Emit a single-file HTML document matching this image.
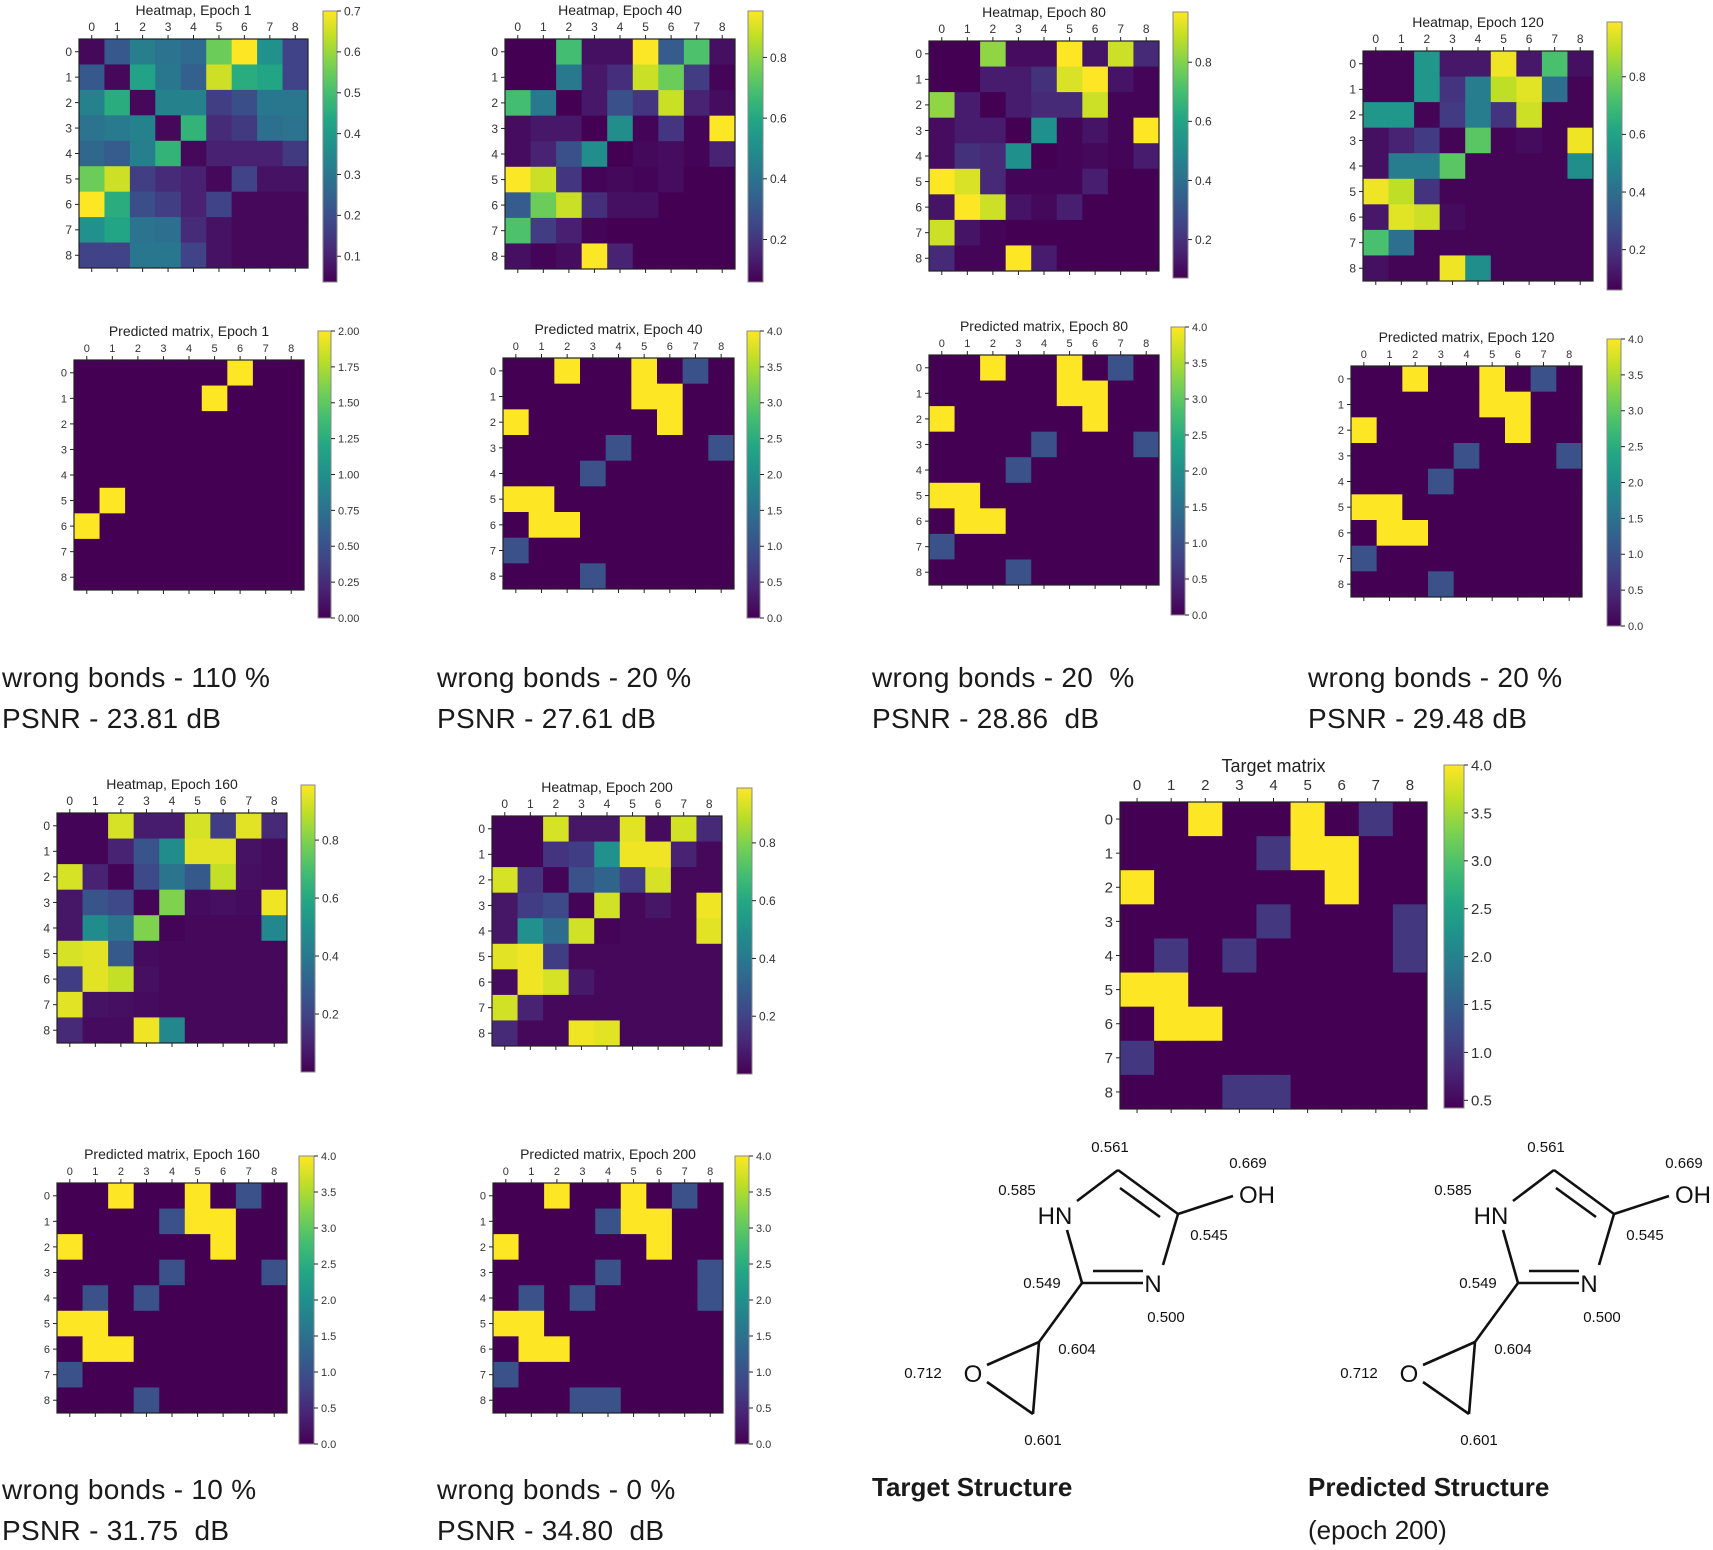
<!DOCTYPE html>
<html><head><meta charset="utf-8"><style>
html,body{margin:0;padding:0;background:#fff;}
svg{display:block;font-family:"Liberation Sans",sans-serif;}
.cap{font-size:28px;letter-spacing:0.3px;}
</style></head><body>
<svg id="fig" width="1713" height="1550" viewBox="0 0 1713 1550" xmlns="http://www.w3.org/2000/svg">
<g class="cap" fill="#1a1a1a">
<text x="2" y="687">wrong bonds - 110 %</text><text x="2" y="728">PSNR - 23.81 dB</text></g>
<g class="cap" fill="#1a1a1a">
<text x="437" y="687">wrong bonds - 20 %</text><text x="437" y="728">PSNR - 27.61 dB</text></g>
<g class="cap" fill="#1a1a1a">
<text x="872" y="687" xml:space="preserve">wrong bonds - 20  %</text><text x="872" y="728" xml:space="preserve">PSNR - 28.86  dB</text></g>
<g class="cap" fill="#1a1a1a">
<text x="1308" y="687">wrong bonds - 20 %</text><text x="1308" y="728">PSNR - 29.48 dB</text></g>
<g class="cap" fill="#1a1a1a">
<text x="2" y="1499">wrong bonds - 10 %</text><text x="2" y="1540" xml:space="preserve">PSNR - 31.75  dB</text></g>
<g class="cap" fill="#1a1a1a">
<text x="437" y="1499">wrong bonds - 0 %</text><text x="437" y="1540" xml:space="preserve">PSNR - 34.80  dB</text></g>
<text x="872" y="1496" font-size="26" font-weight="bold" fill="#1a1a1a">Target Structure</text>
<text x="1308" y="1496" font-size="26" font-weight="bold" fill="#1a1a1a">Predicted Structure</text>
<text x="1308" y="1539" font-size="26" fill="#1a1a1a">(epoch 200)</text>
</svg>
<script>
// ---- data ----
const rowLabels = ["0","1","2","3","4","5","6","7","8"];
const heat1 = [
[.05,.22,.32,.29,.27,.55,.70,.37,.17],
[.22,.05,.42,.30,.24,.65,.45,.43,.17],
[.33,.45,.05,.33,.33,.16,.20,.30,.30],
[.29,.31,.33,.05,.47,.12,.15,.28,.29],
[.26,.23,.32,.47,.05,.10,.10,.10,.15],
[.55,.65,.16,.12,.10,.05,.17,.07,.07],
[.70,.45,.20,.16,.10,.17,.05,.05,.05],
[.37,.43,.29,.28,.12,.07,.05,.05,.05],
[.17,.17,.30,.30,.17,.07,.05,.05,.05]];
const heat40 = [
[.06,.06,.68,.10,.10,.95,.32,.70,.10],
[.06,.06,.42,.12,.18,.88,.75,.22,.07],
[.68,.42,.06,.12,.28,.20,.88,.15,.09],
[.09,.12,.12,.06,.50,.07,.20,.07,.95],
[.09,.15,.28,.50,.06,.08,.09,.07,.15],
[.95,.88,.20,.07,.08,.07,.09,.06,.06],
[.32,.75,.88,.18,.10,.10,.06,.06,.06],
[.70,.22,.14,.07,.06,.06,.06,.06,.06],
[.10,.07,.09,.95,.15,.06,.06,.06,.06]];
const heat80 = [
[.07,.07,.82,.10,.10,.97,.12,.90,.18],
[.07,.07,.14,.14,.20,.92,.97,.12,.08],
[.82,.14,.07,.14,.18,.18,.90,.08,.08],
[.10,.14,.14,.07,.52,.08,.12,.08,.97],
[.10,.20,.18,.52,.07,.08,.09,.08,.14],
[.97,.92,.18,.08,.08,.08,.15,.07,.07],
[.12,.97,.90,.12,.09,.15,.07,.07,.07],
[.90,.12,.08,.07,.07,.07,.07,.07,.07],
[.18,.08,.08,.97,.14,.07,.07,.07,.07]];
const heat120 = [
[.07,.07,.55,.12,.12,.97,.12,.72,.10],
[.07,.07,.55,.20,.45,.90,.95,.40,.07],
[.55,.55,.07,.22,.45,.20,.92,.07,.07],
[.10,.15,.22,.07,.75,.07,.09,.07,.97],
[.10,.45,.45,.75,.07,.07,.07,.07,.52],
[.97,.90,.20,.07,.07,.07,.07,.07,.07],
[.12,.95,.92,.09,.07,.07,.07,.07,.07],
[.72,.40,.07,.07,.07,.07,.07,.07,.07],
[.10,.07,.07,.97,.52,.07,.07,.07,.07]];
const heat160 = [
[.01,.01,.93,.08,.08,.93,.18,.95,.12],
[.01,.01,.10,.26,.48,.95,.95,.05,.03],
[.93,.10,.01,.22,.38,.28,.90,.04,.03],
[.06,.26,.22,.01,.80,.03,.04,.03,.97],
[.06,.48,.38,.80,.01,.02,.02,.02,.46],
[.93,.95,.28,.03,.02,.02,.02,.02,.02],
[.18,.95,.90,.04,.02,.02,.02,.02,.02],
[.95,.05,.04,.03,.02,.02,.02,.02,.02],
[.12,.03,.03,.97,.46,.02,.02,.02,.02]];
const heat200 = [
[.01,.01,.93,.06,.06,.95,.03,.92,.12],
[.01,.01,.15,.18,.50,.97,.97,.10,.02],
[.93,.15,.01,.25,.32,.18,.93,.02,.02],
[.06,.18,.22,.01,.92,.02,.06,.02,.97],
[.06,.50,.35,.92,.01,.02,.02,.02,.95],
[.95,.97,.18,.02,.02,.02,.02,.02,.02],
[.03,.97,.93,.07,.02,.02,.02,.02,.02],
[.92,.10,.02,.02,.02,.02,.02,.02,.02],
[.12,.02,.02,.97,.95,.02,.02,.02,.02]];
const pred1 = [
[0,0,0,0,0,0,2,0,0],[0,0,0,0,0,2,0,0,0],[0,0,0,0,0,0,0,0,0],
[0,0,0,0,0,0,0,0,0],[0,0,0,0,0,0,0,0,0],[0,2,0,0,0,0,0,0,0],
[2,0,0,0,0,0,0,0,0],[0,0,0,0,0,0,0,0,0],[0,0,0,0,0,0,0,0,0]];
const pred40 = [
[0,0,4,0,0,4,0,1,0],[0,0,0,0,0,4,4,0,0],[4,0,0,0,0,0,4,0,0],
[0,0,0,0,1,0,0,0,1],[0,0,0,1,0,0,0,0,0],[4,4,0,0,0,0,0,0,0],
[0,4,4,0,0,0,0,0,0],[1,0,0,0,0,0,0,0,0],[0,0,0,1,0,0,0,0,0]];
const pred80 = pred40.map(r=>r.slice());
const pred120 = pred40.map(r=>r.slice());
const pred160 = [
[0,0,4,0,0,4,0,1,0],[0,0,0,0,1,4,4,0,0],[4,0,0,0,0,0,4,0,0],
[0,0,0,0,1,0,0,0,1],[0,1,0,1,0,0,0,0,0],[4,4,0,0,0,0,0,0,0],
[0,4,4,0,0,0,0,0,0],[1,0,0,0,0,0,0,0,0],[0,0,0,1,0,0,0,0,0]];
const pred200 = [
[0,0,4,0,0,4,0,1,0],[0,0,0,0,1,4,4,0,0],[4,0,0,0,0,0,4,0,0],
[0,0,0,0,1,0,0,0,1],[0,1,0,1,0,0,0,0,1],[4,4,0,0,0,0,0,0,0],
[0,4,4,0,0,0,0,0,0],[1,0,0,0,0,0,0,0,0],[0,0,0,1,1,0,0,0,0]];
const target = [
[.42,.42,4,.42,.42,4,.42,1,.42],[.42,.42,.42,.42,1,4,4,.42,.42],[4,.42,.42,.42,.42,.42,4,.42,.42],
[.42,.42,.42,.42,1,.42,.42,.42,1],[.42,1,.42,1,.42,.42,.42,.42,1],[4,4,.42,.42,.42,.42,.42,.42,.42],
[.42,4,4,.42,.42,.42,.42,.42,.42],[1,.42,.42,.42,.42,.42,.42,.42,.42],[.42,.42,.42,1,1,.42,.42,.42,.42]];
const ticksHeat1 = [0.1,0.2,0.3,0.4,0.5,0.6,0.7];
const ticksHeat = [0.2,0.4,0.6,0.8];
const ticksPred1 = [0,0.25,0.5,0.75,1,1.25,1.5,1.75,2];
const ticksPred = [0,0.5,1,1.5,2,2.5,3,3.5,4];
const ticksTarget = [0.5,1,1.5,2,2.5,3,3.5,4];

// ---- drawing ----
const NS="http://www.w3.org/2000/svg";
const svg=document.getElementById('fig');
const VIR=[[68,1,84],[72,35,116],[64,67,135],[52,94,141],[41,120,142],[32,144,140],[34,167,132],[68,190,112],[121,209,81],[189,222,38],[253,231,37]];
function viridis(t){t=Math.max(0,Math.min(1,t));const p=t*(VIR.length-1);const i=Math.min(Math.floor(p),VIR.length-2);const f=p-i;
 const c=VIR[i].map((v,k)=>Math.round(v+(VIR[i+1][k]-v)*f));return `rgb(${c[0]},${c[1]},${c[2]})`;}
function el(tag,attrs,parent){const e=document.createElementNS(NS,tag);for(const k in attrs)e.setAttribute(k,attrs[k]);(parent||svg).appendChild(e);return e;}
function heatmap(name,title,data,x0,y0,size,vmin,vmax,cb,ticks,fmt,fs,tfs){
 const g=el('g',{});
 
 
 const n=data.length, cs=size/n;
 const sx=c=>x0+c*cs, sy=r=>y0+r*cs, col=v=>viridis((v-vmin)/(vmax-vmin));
 data.forEach((row,r)=>row.forEach((v,c)=>{
  const rc=el('rect',{x:sx(c),y:sy(r),width:cs+0.5,height:cs+0.5,fill:col(v)},g);
  
  
 }));
 const fr=el('rect',{x:x0,y:y0,width:size,height:size,fill:'none',stroke:'#222','stroke-width':1.2},g);
 
 
 const t=el('text',{x:x0+size/2,y:y0-(tfs>15?30:24),'font-size':tfs,'text-anchor':'middle',fill:'#222'},g);t.textContent=title;
 
 
 rowLabels.forEach((lab,i)=>{
  const cx=sx(i)+cs/2, cy=sy(i)+cs/2;
  el('line',{x1:cx,y1:y0,x2:cx,y2:y0-4,stroke:'#222'},g);
  el('line',{x1:cx,y1:y0+size,x2:cx,y2:y0+size+4,stroke:'#222'},g);
  el('line',{x1:x0,y1:cy,x2:x0-4,y2:cy,stroke:'#222'},g);
  const tx=el('text',{x:cx,y:y0-(tfs>15?12:8),'font-size':fs,'text-anchor':'middle',fill:'#333'},g);tx.textContent=lab;
  
  
  const ty=el('text',{x:x0-7,y:cy+fs*0.36,'font-size':fs,'text-anchor':'end',fill:'#333'},g);ty.textContent=lab;
  
  
 });
 const [bx,by,bw,bh]=cb; const gid='grad-'+name;
 const lg=el('linearGradient',{id:gid,x1:0,y1:1,x2:0,y2:0},g);
 for(let i=0;i<=10;i++)el('stop',{offset:i/10,'stop-color':viridis(i/10)},lg);
 const bar=el('rect',{x:bx,y:by,width:bw,height:bh,fill:`url(#${gid})`,stroke:'#888','stroke-width':1},g);
 
 
 const cy=v=>by+bh-(v-vmin)/(vmax-vmin)*bh;
 ticks.forEach(v=>{const yy=cy(v);
  el('line',{x1:bx+bw,y1:yy,x2:bx+bw+4,y2:yy,stroke:'#222'},g);
  const tl=el('text',{x:bx+bw+7,y:yy+fs*0.36,'font-size':fs,fill:'#333'},g);tl.textContent=fmt(v);
  
  
 });
}
const f1=v=>v.toFixed(1), f2=v=>v.toFixed(2);
heatmap('heatmap-epoch-1','Heatmap, Epoch 1',heat1,79,39,229,0.037,0.7,[323,11,14,271],ticksHeat1,f1,12,14);
heatmap('heatmap-epoch-40','Heatmap, Epoch 40',heat40,505,39,230,0.06,0.953,[748,11,15,271],ticksHeat,f1,12,14);
heatmap('heatmap-epoch-80','Heatmap, Epoch 80',heat80,929,41,230,0.07,0.97,[1173,12,15,266],ticksHeat,f1,12,14);
heatmap('heatmap-epoch-120','Heatmap, Epoch 120',heat120,1363,51,230,0.06,0.99,[1607,22,15,268],ticksHeat,f1,12,14);
heatmap('heatmap-epoch-160','Heatmap, Epoch 160',heat160,57,813,230,0.0,0.99,[301,785,14,287],ticksHeat,f1,12,14);
heatmap('heatmap-epoch-200','Heatmap, Epoch 200',heat200,492,816,230,0.0,0.99,[737,788,15,286],ticksHeat,f1,12,14);
heatmap('predicted-epoch-1','Predicted matrix, Epoch 1',pred1,74,360,230,0,2,[318,331,13,287],ticksPred1,f2,11,14);
heatmap('predicted-epoch-40','Predicted matrix, Epoch 40',pred40,503,358,231,0,4,[747,331,13,287],ticksPred,f1,11,14);
heatmap('predicted-epoch-80','Predicted matrix, Epoch 80',pred80,929,355,230,0,4,[1171,327,14,288],ticksPred,f1,11,14);
heatmap('predicted-epoch-120','Predicted matrix, Epoch 120',pred120,1351,366,231,0,4,[1607,339,14,287],ticksPred,f1,11,14);
heatmap('predicted-epoch-160','Predicted matrix, Epoch 160',pred160,57,1183,230,0,4,[299,1156,15,288],ticksPred,f1,11,14);
heatmap('predicted-epoch-200','Predicted matrix, Epoch 200',pred200,493,1183,230,0,4,[735,1156,14,288],ticksPred,f1,11,14);
heatmap('target-matrix','Target matrix',target,1120,802,307,0.42,4.0,[1444,765,20,343],ticksTarget,f1,15,18);

// ---- molecules ----
function molecule(name,dx){
 const g=el('g',{transform:`translate(${dx},0)`,stroke:'#111','stroke-width':2.6,fill:'none'});
 
 
 const L=[[1077,1201,1118,1170],[1118,1170,1178,1214],[1120,1188,1160,1217],[1178,1214,1163,1265],[1082,1283,1143,1283],[1093,1271,1143,1271],[1082,1283,1067,1230],[1082,1283,1039,1342],[1039,1342,987,1365],[987,1382,1033,1414],[1033,1414,1039,1342],[1178,1214,1233,1196]];
 L.forEach(l=>el('line',{x1:l[0],y1:l[1],x2:l[2],y2:l[3]},g));
 const T=[["HN",1055,1224,24],["N",1153,1292,24],["OH",1257,1203,24],["O",973,1382,24],
 ["0.561",1110,1152,15],["0.669",1248,1168,15],["0.585",1017,1195,15],["0.545",1209,1240,15],["0.549",1042,1288,15],["0.500",1166,1322,15],["0.604",1077,1354,15],["0.712",923,1378,15],["0.601",1043,1445,15]];
 T.forEach(t=>{const e=el('text',{x:t[1],y:t[2],'font-size':t[3],'text-anchor':'middle',fill:'#111',stroke:'none'},g);e.textContent=t[0];
  
  });
}
molecule('target-structure',0);
molecule('predicted-structure',436);
</script>
</body></html>
